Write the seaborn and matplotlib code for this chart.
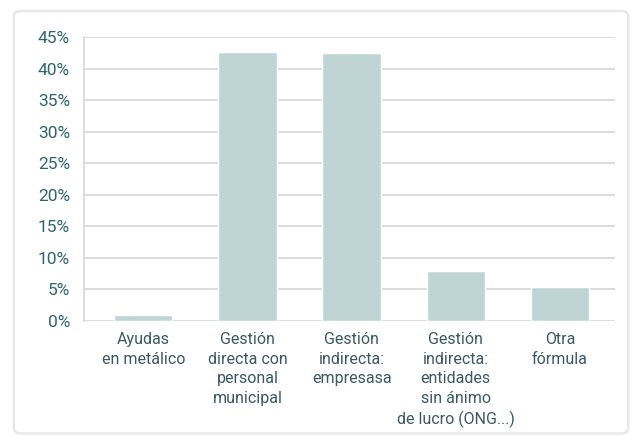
import numpy as np
import pandas as pd
import matplotlib.pyplot as plt
import matplotlib.ticker as mticker
from matplotlib.patches import FancyBboxPatch
import seaborn as sns

categories = [
    "Ayudas\nen metálico",
    "Gestión\ndirecta con\npersonal\nmunicipal",
    "Gestión\nindirecta:\nempresasa",
    "Gestión\nindirecta:\nentidades\nsin ánimo\nde lucro (ONG...)",
    "Otra\nfórmula",
]
values = [0.9, 42.7, 42.4, 7.9, 5.4]

BAR_COLOR = "#bfd4d5"
GRID_COLOR = "#d9d9d9"
TICK_COLOR = "#2f6472"
LABEL_COLOR = "#3b5864"

sns.set_style("white")
plt.rcParams["font.family"] = ["Roboto", "DejaVu Sans"]

df = pd.DataFrame({"cat": categories, "val": values})

fig = plt.figure(figsize=(6.32, 4.37), dpi=100)
fig.patch.set_facecolor("white")

# card background with soft border
card = FancyBboxPatch((0.022, 0.008), 0.972, 0.967, transform=fig.transFigure,
                      boxstyle="round,pad=0,rounding_size=0.012",
                      facecolor="white", edgecolor="#e8e8e8", linewidth=1.8,
                      zorder=-10)
fig.patches.append(card)

ax = fig.add_axes([84 / 632, 1 - 321 / 437, 531 / 632, 284 / 437])
ax.set_facecolor("none")
sns.barplot(data=df, x="cat", y="val", color=BAR_COLOR, saturation=1,
            width=0.56, ax=ax, zorder=3)

ax.set_ylim(0, 45)
ax.set_xlim(-0.57, 4.53)
ax.yaxis.set_major_locator(mticker.MultipleLocator(5))
ax.yaxis.set_major_formatter(mticker.FuncFormatter(lambda v, p: f"{v:.0f}%"))
ax.grid(axis="y", color=GRID_COLOR, linewidth=1.3, zorder=0)
ax.set_axisbelow(True)

for side in ["top", "right", "bottom"]:
    ax.spines[side].set_visible(False)
ax.spines["left"].set_color(GRID_COLOR)
ax.spines["left"].set_linewidth(1.3)

ax.tick_params(axis="y", length=7, width=1.3, color=GRID_COLOR,
               labelsize=12.5, labelcolor=TICK_COLOR, pad=3)
ax.tick_params(axis="x", length=0, labelsize=11.5, labelcolor=LABEL_COLOR,
               pad=8)
for t in ax.get_xticklabels():
    t.set_linespacing(1.38)
ax.set_xlabel("")
ax.set_ylabel("")

fig.savefig("out.png", dpi=100)
